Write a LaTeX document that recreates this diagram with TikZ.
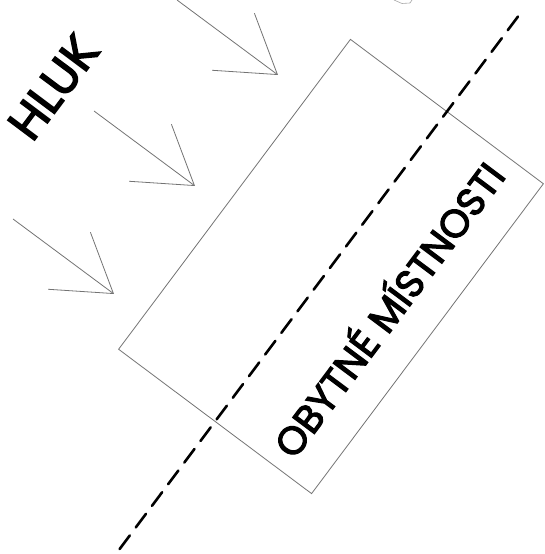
\documentclass[tikz,border=0pt]{standalone}
\usepackage{fontspec}
\setmainfont{Poppins}[FakeBold=3]
\usetikzlibrary{positioning, arrows.meta, calc}

\begin{document}
\begin{tikzpicture}[
  x=1pt, y=1pt,
  room/.style={
    draw=black!55, line width=0.8pt, rectangle, rotate=53.2,
    minimum width=387pt, minimum height=241pt, inner sep=0pt
  },
  axis/.style={draw=black, line width=2.6pt, line cap=round,
    dash pattern=on 17pt off 10pt},
  noise/.style={draw=black!55, line width=0.8pt,
    -{Straight Barb[length=55pt, width=71pt]}},
  caption/.style={inner sep=0pt, text height=0.7em, text depth=0pt, rotate=53.2},
]
\useasboundingbox (0,0) rectangle (544,554);

% room seen from above, with its axis
\node[room] (room) at (331,287.5) {};
\draw[axis] ($(room.west)!-159pt!(room.east)$) -- ($(room.east)!-127pt!(room.west)$);
\node[caption, font=\fontsize{39}{39}\selectfont] (roomlabel)
  at ($(room.center)!0.69!(room.south)$) {OBYTNÉ MÍSTNOSTI};

% noise coming in from the upper left
\node[caption, font=\fontsize{48}{48}\selectfont] (hluk) at (64,459) {HLUK};

\coordinate (tip1) at (278,479);
\coordinate (tail1) at ($(tip1)+(-101,75)$);
\coordinate (tip2) at (195,368);
\coordinate (tail2) at ($(tip2)+(-101,75)$);
\coordinate (tip3) at (114,260);
\coordinate (tail3) at ($(tip3)+(-101,75)$);

\draw[noise] (tail1) -- (tip1);
\draw[noise] (tail2) -- (tip2);
\draw[noise] (tail3) -- (tip3);

% cut-off corner at the top edge
\draw[black!35, line width=0.6pt] (394,554) -- (402,550.5) -- (410,551) -- (412,554);

\end{tikzpicture}
\end{document}
